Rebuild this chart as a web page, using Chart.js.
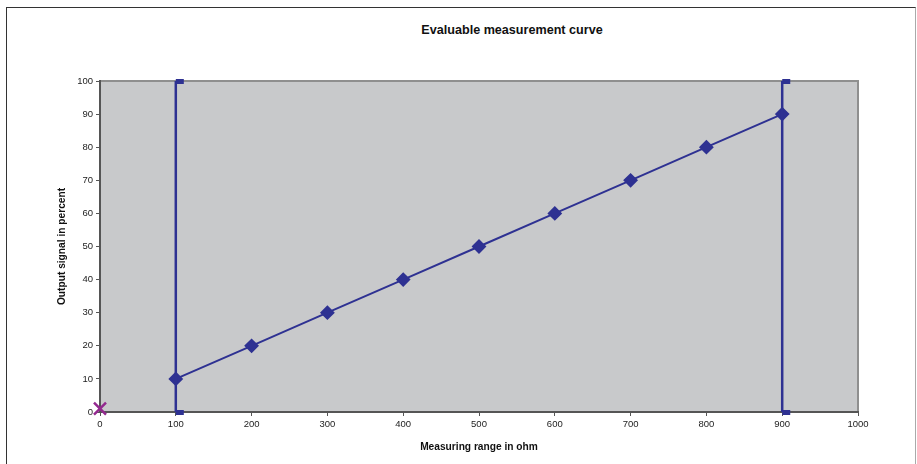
<!DOCTYPE html>
<html>
<head>
<meta charset="utf-8">
<script src="https://cdn.jsdelivr.net/npm/chart.js@4/dist/chart.umd.min.js"></script>
<style>
  html, body { margin: 0; padding: 0; background: #fff; }
  #wrap { position: relative; width: 917px; height: 464px; overflow: hidden; }
  #frame { position: absolute; left: 6px; top: 7px; width: 908px; height: 470px;
    border-left: 1px solid #333; border-top: 1px solid #333; border-right: 1px solid #aaa; }
  #title { position: absolute; left: 0; width: 1024px; top: 23px; text-align: center;
    font: bold 12.6px "Liberation Sans", Arial, sans-serif; color: #111; }
  canvas { position: absolute; left: 0; top: 0; }
</style>
</head>
<body>
<div id="wrap">
  <div id="frame"></div>
  <div id="title">Evaluable measurement curve</div>
  <canvas id="chart" width="917" height="464"></canvas>
</div>
<script>
let ohms = [100, 200, 300, 400, 500, 600, 700, 800, 900];
let signal = [10, 20, 30, 40, 50, 60, 70, 80, 90];
let lowerLimit = [[100, 0], [100, 100]];
let upperLimit = [[900, 0], [900, 100]];
let origin = [[0, 1]];

let blue = '#2e3192';
let purple = '#93288f';

// dash marker sitting to the right of the point, like the excel one
let dash = document.createElement('canvas');
dash.width = 18; dash.height = 5;
let dctx = dash.getContext('2d');
dctx.fillStyle = blue;
dctx.fillRect(9, 0, 8, 5);

let toPts = arr => arr.map(p => ({x: p[0], y: p[1]}));

let plotBg = {
  id: 'plotBg',
  beforeDraw(chart) {
    let {ctx, chartArea: a} = chart;
    ctx.save();
    ctx.fillStyle = '#c8c9cb';
    ctx.fillRect(a.left, a.top, a.right - a.left, a.bottom - a.top);
    ctx.strokeStyle = '#8f8f8f';
    ctx.lineWidth = 2;
    ctx.beginPath();
    ctx.moveTo(a.left, a.top);
    ctx.lineTo(a.right, a.top);
    ctx.lineTo(a.right, a.bottom);
    ctx.stroke();
    ctx.restore();
  }
};

let ctx = document.getElementById('chart').getContext('2d');
let myChart = new Chart(ctx, {
  type: 'scatter',
  data: {
    datasets: [{
      data: toPts(lowerLimit),
      showLine: true,
      borderColor: blue,
      borderWidth: 2.5,
      pointStyle: dash,
      clip: false
    }, {
      data: toPts(upperLimit),
      showLine: true,
      borderColor: blue,
      borderWidth: 2.5,
      pointStyle: dash,
      clip: false
    }, {
      data: ohms.map((x, i) => ({x: x, y: signal[i]})),
      showLine: true,
      borderColor: blue,
      borderWidth: 2,
      backgroundColor: blue,
      pointStyle: 'rectRot',
      pointRadius: 6,
      clip: false
    }, {
      data: toPts(origin),
      borderColor: purple,
      borderWidth: 2.5,
      pointStyle: 'crossRot',
      pointRadius: 8.5,
      clip: false
    }]
  },
  options: {
    responsive: false,
    animation: false,
    layout: { padding: { left: 0, right: 59, top: 81, bottom: 0 } },
    scales: {
      x: {
        type: 'linear',
        min: 0, max: 1000,
        ticks: { stepSize: 100, color: '#222', padding: 3, maxRotation: 0,
          callback: v => String(v),
          font: { family: 'Liberation Sans', size: 9.5 } },
        grid: { drawOnChartArea: false, tickLength: 4, color: '#555', tickWidth: 1 },
        border: { color: '#555', width: 2 },
        title: { display: true, text: 'Measuring range in ohm', color: '#111',
          font: { family: 'Liberation Sans', size: 10.2, weight: 'bold' }, padding: { top: 0, bottom: 11 } },
        afterFit(s) { s.height = 52; }
      },
      y: {
        min: 0, max: 100,
        ticks: { stepSize: 10, color: '#222', padding: 3,
          font: { family: 'Liberation Sans', size: 9.5 } },
        grid: { drawOnChartArea: false, tickLength: 4, color: '#555', tickWidth: 1 },
        border: { color: '#555', width: 2 },
        title: { display: true, text: 'Output signal in percent', color: '#111',
          font: { family: 'Liberation Sans', size: 10.2, weight: 'bold' }, padding: { top: 56, bottom: 0 } },
        afterFit(s) { s.width = 100; }
      }
    },
    plugins: {
      legend: { display: false },
      tooltip: { enabled: false }
    }
  },
  plugins: [plotBg]
});
</script>
</body>
</html>
